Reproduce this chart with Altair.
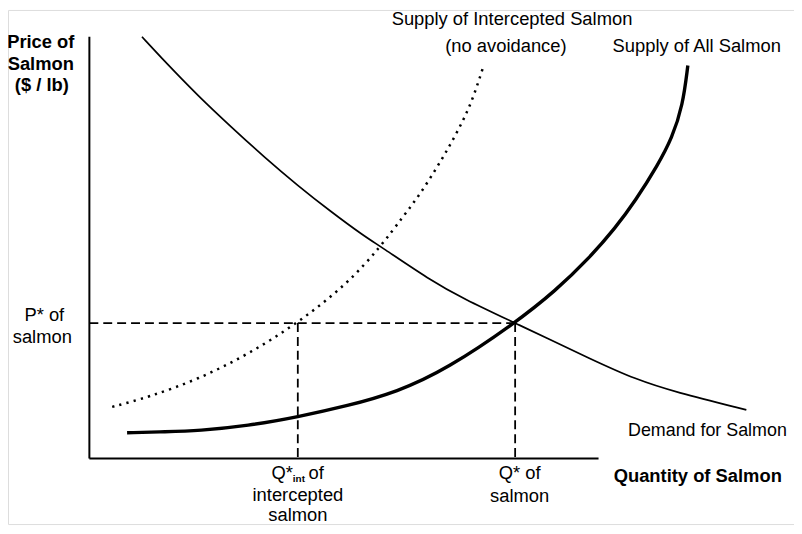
import altair as alt
import pandas as pd

# Demand curve (quantity, price) in chart units
dem_q = [10.39, 15.10, 21.57, 28.04, 34.71, 41.18, 47.65, 54.31, 57.45, 67.25, 73.92, 84.12,
         100.0, 107.84, 115.69, 129.80]
dem_p = [100.0, 93.88, 85.88, 78.59, 71.29, 64.71, 58.59, 52.71, 50.35, 42.35, 37.88, 32.12,
         23.06, 18.82, 15.76, 11.53]

# Supply of all salmon
sup_q = [7.45, 15.10, 21.57, 31.37, 41.18, 50.98, 60.78, 70.59, 84.12, 92.16, 98.63, 103.92,
         107.84, 112.35, 115.10, 117.25, 118.24]
sup_p = [6.12, 6.35, 6.59, 7.76, 9.88, 12.47, 15.76, 21.18, 32.12, 39.84, 47.36, 54.68,
         61.04, 69.69, 75.95, 83.72, 93.18]

# Supply of intercepted salmon (no avoidance)
int_q = [4.51, 11.76, 21.57, 31.37, 41.18, 50.98, 57.45, 62.16, 65.29, 68.63, 71.18, 73.92,
         75.88, 77.84]
int_p = [12.24, 14.59, 18.82, 24.71, 32.12, 41.41, 50.12, 57.65, 62.59, 68.94, 74.12, 80.24,
         85.65, 92.94]

# Equilibrium values
p_star = 32.12
q_int = 41.18
q_star = 84.12

# Axis extents
x_end = 100.6
y_end = 100.0

W, H = 792, 518
xdom = [-16.078, 139.216]
ydom = [-15.529, 106.353]

xs = alt.Scale(domain=xdom, nice=False, zero=False)
ys = alt.Scale(domain=ydom, nice=False, zero=False)

FONT = "Liberation Sans"
FS = 18.5


def line_df(qs, ps):
    return pd.DataFrame({"q": qs, "p": ps, "o": list(range(len(qs)))})


enc = dict(
    x=alt.X("q:Q", scale=xs, axis=None),
    y=alt.Y("p:Q", scale=ys, axis=None),
    order="o:O",
)

demand = alt.Chart(line_df(dem_q, dem_p)).mark_line(
    color="black", strokeWidth=1.7, interpolate="basis"
).encode(**enc)

supply = alt.Chart(line_df(sup_q, sup_p)).mark_line(
    color="black", strokeWidth=3.4, interpolate="basis"
).encode(**enc)

intercepted = alt.Chart(line_df(int_q, int_p)).mark_line(
    color="black", strokeWidth=2.5, strokeDash=[2.3, 5.2], interpolate="basis"
).encode(**enc)

# Axes lines
axes_df = pd.DataFrame({
    "q": [0, 0], "q2": [0, x_end], "p": [0, 0], "p2": [y_end, 0]
})
axes = alt.Chart(axes_df).mark_rule(color="black", strokeWidth=2).encode(
    x=alt.X("q:Q", scale=xs, axis=None), x2="q2",
    y=alt.Y("p:Q", scale=ys, axis=None), y2="p2",
)

# Dashed guides
dash_df = pd.DataFrame({
    "q": [0, q_int, q_star], "q2": [q_star, q_int, q_star],
    "p": [p_star, p_star, p_star], "p2": [p_star, 0, 0],
})
dashes = alt.Chart(dash_df).mark_rule(color="black", strokeWidth=1.8, strokeDash=[9, 5]).encode(
    x=alt.X("q:Q", scale=xs, axis=None), x2="q2",
    y=alt.Y("p:Q", scale=ys, axis=None), y2="p2",
)

# Labels
bold_text = ["Price of", "Salmon", "($ / lb)", "Quantity of Salmon"]
bold_q = [-9.6, -9.6, -9.4, 120.2]
bold_p = [98.8, 93.6, 88.5, -4.2]

reg_text = ["P* of", "salmon", "intercepted", "salmon", "Q* of", "salmon",
            "Supply of Intercepted Salmon", "(no avoidance)", "Supply of All Salmon"]
reg_q = [-8.9, -9.3, 41.2, 41.2, 85.0, 85.0, 83.5, 82.3, 120.0]
reg_p = [34.1, 28.7, -8.7, -13.4, -3.5, -8.9, 104.2, 97.9, 97.9]

txt_enc = dict(x=alt.X("q:Q", scale=xs, axis=None), y=alt.Y("p:Q", scale=ys, axis=None), text="t:N")

bold = alt.Chart(pd.DataFrame({"q": bold_q, "p": bold_p, "t": bold_text})).mark_text(
    font=FONT, fontSize=FS, fontWeight="bold", color="black",
    align="center", baseline="middle"
).encode(**txt_enc)

reg = alt.Chart(pd.DataFrame({"q": reg_q, "p": reg_p, "t": reg_text})).mark_text(
    font=FONT, fontSize=FS, color="black",
    align="center", baseline="middle"
).encode(**txt_enc)

# Demand label, right-aligned so it stays inside the picture
dem_label = alt.Chart(pd.DataFrame({"q": [137.8], "p": [6.6], "t": ["Demand for Salmon"]})).mark_text(
    font=FONT, fontSize=18, color="black", align="right", baseline="middle"
).encode(**txt_enc)

# Q*int of  (with subscript)
qint_main = alt.Chart(pd.DataFrame({"q": [40.2], "p": [-3.5], "t": ["Q*"]})).mark_text(
    font=FONT, fontSize=FS, color="black", align="right", baseline="middle"
).encode(**txt_enc)
qint_sub = alt.Chart(pd.DataFrame({"q": [40.2], "p": [-4.8], "t": ["int"]})).mark_text(
    font=FONT, fontSize=10, fontWeight="bold", color="black", align="left", baseline="middle"
).encode(**txt_enc)
qint_of = alt.Chart(pd.DataFrame({"q": [43.3], "p": [-3.5], "t": ["of"]})).mark_text(
    font=FONT, fontSize=FS, color="black", align="left", baseline="middle"
).encode(**txt_enc)

chart = alt.layer(
    axes, dashes, demand, intercepted, supply, bold, reg, dem_label, qint_main, qint_sub, qint_of
).properties(
    width=W, height=H, padding=0, autosize=alt.AutoSizeParams(type="none")
).configure_view(strokeWidth=0).configure(background="white")

chart.save("out.html", embed_options={"renderer": "svg", "actions": False})
